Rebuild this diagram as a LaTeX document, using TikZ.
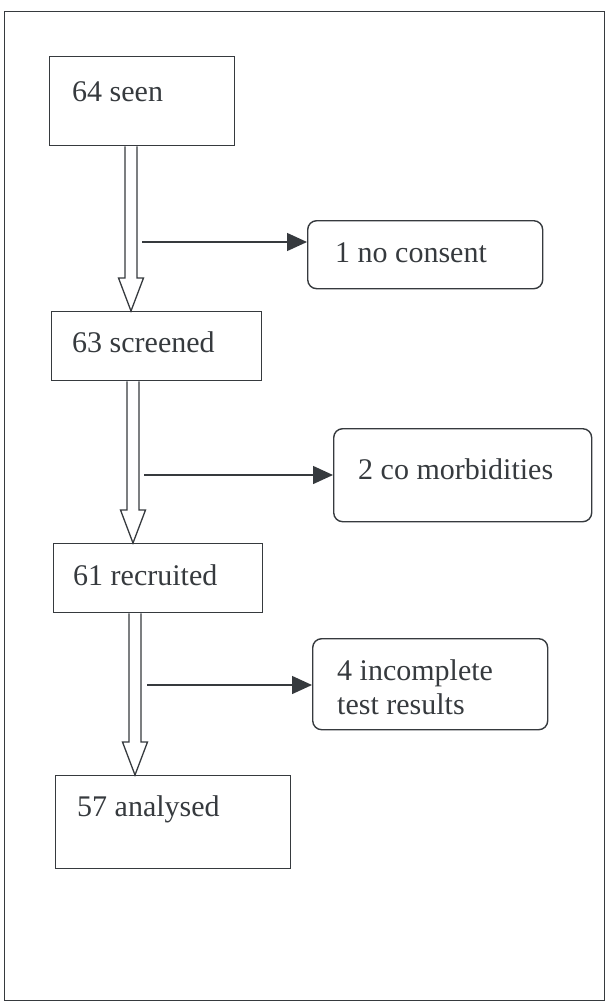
\documentclass[tikz,border=0pt]{standalone}
\usepackage{fontspec}
\setmainfont{Liberation Serif}
\usetikzlibrary{arrows.meta,calc}
\definecolor{ink}{HTML}{363A3E}
\newcommand\bigarrow[3]{%
  \draw[big] ($(#1.south -| #3)+(-6,0)$) -- ($(#2.north -| #3)+(-6,-33)$)
    -- ($(#2.north -| #3)+(-12.5,-33)$) -- (#2.north -| #3)
    -- ($(#2.north -| #3)+(12.5,-33)$) -- ($(#2.north -| #3)+(6,-33)$)
    -- ($(#1.south -| #3)+(6,0)$);}
\begin{document}
\begin{tikzpicture}[x=1pt,y=-1pt,
  box/.style={draw=ink, line width=1.4pt, rectangle, inner sep=0pt, anchor=north west},
  rbox/.style={box, rounded corners=9pt},
  txt/.style={anchor=base west, inner sep=0pt, align=left, text=ink,
    font=\fontsize{30}{34}\selectfont},
  side/.style={draw=ink, line width=1.4pt, -{Triangle[length=20pt,width=18pt]}},
  big/.style={draw=ink, line width=1.3pt, fill=white, line join=miter}]
\useasboundingbox (0,0) rectangle (606,1004);
\node[box, minimum width=600pt, minimum height=989pt] (frame) at (4,11) {};
% main boxes
\node[box, minimum width=185pt, minimum height=89pt] (seen) at (49,56) {};
\node[box, minimum width=210pt, minimum height=69pt] (scr) at (51,311) {};
\node[box, minimum width=209pt, minimum height=69pt] (rec) at (53,543) {};
\node[box, minimum width=235pt, minimum height=93pt] (ana) at (55,775) {};
% side boxes
\node[rbox, minimum width=235pt, minimum height=68pt] (nocon) at (307,220) {};
\node[rbox, minimum width=258pt, minimum height=93pt] (comor) at (333,428) {};
\node[rbox, minimum width=235pt, minimum height=91pt] (incomp) at (312,638) {};
% texts
\node[txt] (seen-t) at (72,101) {64 seen};
\node[txt] (scr-t) at (72,352) {63 screened};
\node[txt] (rec-t) at (73,585) {61 recruited};
\node[txt] (ana-t) at (77,816) {57 analysed};
\node[txt] (nocon-t) at (335,262) {1 no consent};
\node[txt] (comor-t) at (358,479) {2 co morbidities};
\node[txt] (incomp-t) at (337,714) {4 incomplete\\test results};
% arrow axes
\coordinate (ax1) at (131,0);
\coordinate (ax2) at (133,0);
\coordinate (ax3) at (135,0);
\bigarrow{seen}{scr}{ax1}
\bigarrow{scr}{rec}{ax2}
\bigarrow{rec}{ana}{ax3}
% side arrows
\coordinate (s1) at (142,242);
\coordinate (s2) at (144,475);
\coordinate (s3) at (147,685);
\draw[side] (s1) -- (s1 -| nocon.west);
\draw[side] (s2) -- (s2 -| comor.west);
\draw[side] (s3) -- (s3 -| incomp.west);
\end{tikzpicture}
\end{document}
